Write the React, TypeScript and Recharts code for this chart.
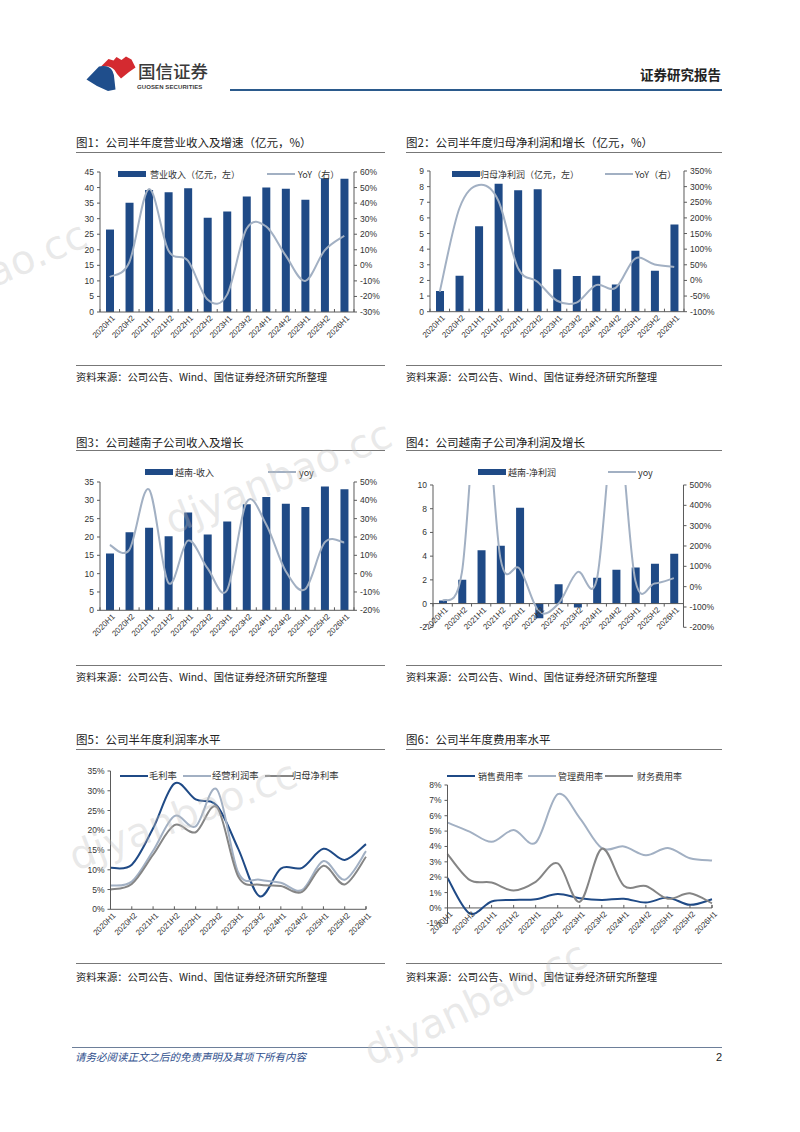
import React from 'react';
import { ComposedChart, Bar, Line, XAxis, YAxis, ReferenceLine } from 'recharts';

// ---------------- DATA ----------------
const categories = ['2020H1', '2020H2', '2021H1', '2021H2', '2022H1', '2022H2', '2023H1', '2023H2', '2024H1', '2024H2', '2025H1', '2025H2', '2026H1'];

const revenue = [26.5, 35.1, 39.2, 38.5, 39.8, 30.3, 32.3, 37.1, 40.0, 39.6, 36.1, 43.0, 42.8];
const revenueYoY = [-7.5, 2, 49, 9.6, 3, -22, -19, 23.5, 25, 6.4, -10, 9.6, 19];

const netProfit = [1.32, 2.3, 5.47, 8.19, 7.77, 7.83, 2.72, 2.28, 2.3, 1.74, 3.9, 2.62, 5.57];
const netProfitYoY = [-36, 230, 305, 255, 40, -4, -65, -71, -15, -24, 70, 51, 43];

const vnRevenue = [15.5, 21.3, 22.5, 20.2, 26.7, 20.7, 24.2, 28.9, 30.9, 29.1, 28.2, 33.8, 33.0];
const vnRevenueYoY = [15.6, 13, 46, -5, 18, 3, -9, 39, 27, 1.5, -8.5, 17, 17];

const vnProfit = [0.25, 2.0, 4.5, 4.87, 8.08, -1.24, 1.63, -0.34, 2.17, 2.85, 3.04, 3.35, 4.2];
const vnProfitYoY = [-70, 70, 1100, 139, 88, -122, -85, 72, 35, 850, 30, 16, 42];

const grossMargin = [10.5, 11.3, 20.5, 31.8, 27.8, 26.2, 15.3, 3.3, 10.3, 10.5, 15.3, 12.5, 16.5];
const opMargin = [6.0, 7.0, 14.8, 23.6, 21.0, 30.3, 9.3, 7.5, 6.7, 4.9, 12.2, 7.5, 14.7];
const netMargin = [5.0, 6.4, 13.8, 21.3, 19.5, 25.8, 8.3, 6.2, 5.9, 4.4, 11.0, 6.3, 13.3];

const sellingRate = [1.95, -0.35, 0.42, 0.52, 0.56, 0.9, 0.63, 0.52, 0.6, 0.35, 0.67, 0.2, 0.56];
const adminRate = [5.55, 4.97, 4.3, 5.07, 4.25, 7.4, 5.85, 3.9, 4.0, 3.43, 3.9, 3.23, 3.08];
const financeRate = [3.5, 1.82, 1.65, 1.13, 1.7, 2.9, 0.4, 3.85, 1.45, 1.43, 0.6, 0.95, 0.3];

const ticks45 = [0, 5, 10, 15, 20, 25, 30, 35, 40, 45];
const ticksYoY1 = [-30, -20, -10, 0, 10, 20, 30, 40, 50, 60];
const ticks9 = [0, 1, 2, 3, 4, 5, 6, 7, 8, 9];
const ticksYoY2 = [-100, -50, 0, 50, 100, 150, 200, 250, 300, 350];
const ticks35 = [0, 5, 10, 15, 20, 25, 30, 35];
const ticksYoY3 = [-20, -10, 0, 10, 20, 30, 40, 50];
const ticks10 = [-2, 0, 2, 4, 6, 8, 10];
const ticksYoY4 = [-200, -100, 0, 100, 200, 300, 400, 500];
const ticksMargin = [0, 5, 10, 15, 20, 25, 30, 35];
const ticksExpense = [-1, 0, 1, 2, 3, 4, 5, 6, 7, 8];

const titles = [
  '图1：公司半年度营业收入及增速（亿元，%）',
  '图2：公司半年度归母净利润和增长（亿元，%）',
  '图3：公司越南子公司收入及增长',
  '图4：公司越南子公司净利润及增长',
  '图5：公司半年度利润率水平',
  '图6：公司半年度费用率水平',
];
const sourceText = '资料来源：公司公告、Wind、国信证券经济研究所整理';

// ---------------- STYLE ----------------
const FONT = "'Liberation Sans', 'Noto Sans CJK SC', sans-serif";
const CJK = "'Noto Sans CJK SC', 'Liberation Sans', sans-serif";
const BLUE = '#1F4A86';
const LIGHT = '#A2B0C3';
const GRAY = '#858585';
const AXIS = '#5a5a5a';
const TXT = '#333';
const XH = 45;

function catmullRom(context: any) {
  let pts: number[][] = [];
  return {
    areaStart() {},
    areaEnd() {},
    lineStart() {
      pts = [];
    },
    point(x: number, y: number) {
      pts.push([+x, +y]);
    },
    lineEnd() {
      const n = pts.length;
      if (n === 0) return;
      context.moveTo(pts[0][0], pts[0][1]);
      for (let i = 0; i < n - 1; i++) {
        const p0 = pts[i - 1] || pts[i];
        const p1 = pts[i];
        const p2 = pts[i + 1];
        const p3 = pts[i + 2] || pts[i + 1];
        context.bezierCurveTo(
          p1[0] + (p2[0] - p0[0]) / 6,
          p1[1] + (p2[1] - p0[1]) / 6,
          p2[0] - (p3[0] - p1[0]) / 6,
          p2[1] - (p3[1] - p1[1]) / 6,
          p2[0],
          p2[1]
        );
      }
    },
  };
}

type Box = { x0: number; y0: number; w: number; h: number; pl: number; pr: number; pt: number; pb: number };

function makeBox(x0: number, w: number, pl: number, pr: number, pt: number, pb: number): Box {
  const y0 = pt - 25;
  return { x0, y0, w, h: pb - y0 + 50, pl, pr, pt, pb };
}

function renderXTick(p: any, shift: number, down: boolean, n: number) {
  const { x, y, payload, index } = p;
  const off = payload && payload.offset ? payload.offset : 0;
  const ay = y - shift;
  const tl = down ? 3 : -3;
  return (
    <g>
      <line x1={x - off} x2={x - off} y1={ay} y2={ay + tl} stroke={AXIS} />
      {index === n - 1 && <line x1={x + off} x2={x + off} y1={ay} y2={ay + tl} stroke={AXIS} />}
      <text
        x={0}
        y={0}
        transform={`translate(${x + 4},${ay + 5}) rotate(-45)`}
        textAnchor="end"
        dy="0.3em"
        fontSize={8}
        fill={TXT}
        fontFamily={FONT}
      >
        {payload.value}
      </text>
    </g>
  );
}

const yTick = { fontSize: 8.5, fill: TXT, fontFamily: FONT };

function BarLineChart(props: {
  box: Box;
  bars: number[];
  line: number[];
  leftDomain: number[];
  leftTicks: number[];
  rightDomain: number[];
  rightTicks: number[];
  zeroAxis?: boolean;
  clip?: boolean;
}) {
  const { box, bars, line, leftDomain, leftTicks, rightDomain, rightTicks, zeroAxis, clip } = props;
  const data = categories.map((c, i) => ({ cat: c, bar: bars[i], yoy: line[i] }));
  const margin = { top: box.pt - box.y0, left: 0, right: 0, bottom: box.y0 + box.h - box.pb - XH };
  const lw = box.pl - box.x0;
  const rw = box.x0 + box.w - box.pr;
  const shift = zeroAxis ? ((0 - leftDomain[0]) / (leftDomain[1] - leftDomain[0])) * (box.pb - box.pt) : 0;
  const n = categories.length;
  return (
    <div style={{ position: 'absolute', left: box.x0, top: box.y0 }}>
      <ComposedChart width={box.w} height={box.h} data={data} margin={margin}>
        <XAxis
          dataKey="cat"
          height={XH}
          tickSize={0}
          tickMargin={0}
          interval={0}
          axisLine={zeroAxis ? false : { stroke: AXIS }}
          tickLine={false}
          tick={(p: any) => renderXTick(p, shift, !!zeroAxis, n)}
        />
        <YAxis
          yAxisId="left"
          orientation="left"
          width={lw}
          domain={leftDomain}
          ticks={leftTicks}
          interval={0}
          allowDataOverflow
          tick={yTick}
          tickSize={3}
          tickMargin={3}
          tickLine={{ stroke: AXIS }}
          axisLine={{ stroke: AXIS }}
        />
        <YAxis
          yAxisId="right"
          orientation="right"
          width={rw}
          domain={rightDomain}
          ticks={rightTicks}
          interval={0}
          allowDataOverflow={!!clip}
          tick={yTick}
          tickSize={3}
          tickMargin={3}
          tickLine={{ stroke: AXIS }}
          axisLine={{ stroke: AXIS }}
          tickFormatter={(v: number) => `${v}%`}
        />
        {zeroAxis && <ReferenceLine yAxisId="left" y={0} stroke={AXIS} strokeWidth={1} />}
        <Bar yAxisId="left" dataKey="bar" fill={BLUE} barSize={8} isAnimationActive={false} />
        <Line
          yAxisId="right"
          dataKey="yoy"
          type={catmullRom as any}
          stroke={LIGHT}
          strokeWidth={2}
          dot={false}
          activeDot={false}
          isAnimationActive={false}
        />
      </ComposedChart>
    </div>
  );
}

function MultiLineChart(props: {
  box: Box;
  series: { key: string; values: number[]; color: string }[];
  domain: number[];
  ticks: number[];
  zeroAxis?: boolean;
}) {
  const { box, series, domain, ticks, zeroAxis } = props;
  const data = categories.map((c, i) => {
    const row: any = { cat: c };
    series.forEach((s) => (row[s.key] = s.values[i]));
    return row;
  });
  const margin = { top: box.pt - box.y0, left: 0, right: box.x0 + box.w - box.pr, bottom: box.y0 + box.h - box.pb - XH };
  const lw = box.pl - box.x0;
  const shift = zeroAxis ? ((0 - domain[0]) / (domain[1] - domain[0])) * (box.pb - box.pt) : 0;
  const n = categories.length;
  return (
    <div style={{ position: 'absolute', left: box.x0, top: box.y0 }}>
      <ComposedChart width={box.w} height={box.h} data={data} margin={margin}>
        <XAxis
          dataKey="cat"
          height={XH}
          tickSize={0}
          tickMargin={0}
          interval={0}
          axisLine={zeroAxis ? false : { stroke: AXIS }}
          tickLine={false}
          tick={(p: any) => renderXTick(p, shift, false, n)}
        />
        <YAxis
          yAxisId="left"
          width={lw}
          domain={domain}
          ticks={ticks}
          interval={0}
          tick={yTick}
          tickSize={3}
          tickMargin={3}
          tickLine={{ stroke: AXIS }}
          axisLine={{ stroke: AXIS }}
          tickFormatter={(v: number) => `${v}%`}
        />
        {zeroAxis && <ReferenceLine yAxisId="left" y={0} stroke={AXIS} strokeWidth={1} />}
        {series.map((s) => (
          <Line
            key={s.key}
            yAxisId="left"
            dataKey={s.key}
            type={catmullRom as any}
            stroke={s.color}
            strokeWidth={2}
            dot={false}
            activeDot={false}
            isAnimationActive={false}
          />
        ))}
      </ComposedChart>
    </div>
  );
}

function Txt(props: { x: number; y: number; size: number; children: any; style?: any }) {
  return (
    <div
      style={{
        position: 'absolute',
        left: props.x,
        top: props.y,
        transform: 'translateY(-50%)',
        fontSize: props.size,
        lineHeight: 1,
        whiteSpace: 'nowrap',
        color: '#222',
        fontFamily: CJK,
        ...(props.style || {}),
      }}
    >
      {props.children}
    </div>
  );
}

function HLine(props: { x1: number; x2: number; y: number; color?: string; t?: number }) {
  return (
    <div
      style={{
        position: 'absolute',
        left: props.x1,
        top: props.y,
        width: props.x2 - props.x1,
        height: props.t || 1,
        background: props.color || '#666',
      }}
    />
  );
}

type LegItem = { kind: 'bar' | 'line'; color: string; label: string; x: number; tx: number };

function Legend2(props: { y: number; items: LegItem[]; size?: number }) {
  return (
    <>
      {props.items.map((it, i) => (
        <React.Fragment key={i}>
          {it.kind === 'bar' ? (
            <div style={{ position: 'absolute', left: it.x, top: props.y - 3, width: 28, height: 6, background: it.color }} />
          ) : (
            <div style={{ position: 'absolute', left: it.x, top: props.y - 1, width: 28, height: 2, background: it.color }} />
          )}
          <Txt x={it.tx} y={props.y} size={props.size || 9} style={{ color: '#333' }}>
            {it.label}
          </Txt>
        </React.Fragment>
      ))}
    </>
  );
}

function Frame(props: { col: 0 | 1; title: string; ty: number; uy: number; sy: number; stY: number }) {
  const x1 = props.col === 0 ? 76 : 406;
  const x2 = props.col === 0 ? 385 : 722;
  return (
    <>
      <Txt x={x1} y={props.ty} size={11.5}>
        {props.title}
      </Txt>
      <HLine x1={x1} x2={x2} y={props.uy} color="#777" />
      <HLine x1={x1} x2={x2} y={props.sy} color="#777" />
      <Txt x={x1} y={props.stY} size={10.3}>
        {sourceText}
      </Txt>
    </>
  );
}

function Header() {
  return (
    <>
      <svg style={{ position: 'absolute', left: 0, top: 0 }} width={240} height={100}>
        <path
          d="M100.5,67 L108.5,59 L113.5,60.5 L116.5,57 L121.5,60 L126,56.5 L131.5,59.5 L135.5,67.5 L129,72 L121,78.5 Q116.5,74 114.5,70 Q110,64.5 100.5,67 Z"
          fill="#D42A30"
        />
        <path
          d="M86.5,79.5 L99,66.5 Q109,64.5 112.5,71 Q114.5,75 114.5,80.5 L115.5,89.5 L108,91 L97,86 Z"
          fill="#1F4E8C"
        />
      </svg>
      <Txt x={138} y={71} size={17.5} style={{ color: '#3a3a3a', fontWeight: 500 }}>
        国信证券
      </Txt>
      <Txt x={137} y={87} size={6} style={{ color: '#3a3a3a', fontWeight: 700, fontFamily: FONT, letterSpacing: 0.1 }}>
        GUOSEN SECURITIES
      </Txt>
      <Txt x={640} y={75} size={13.5} style={{ color: '#222', fontWeight: 700 }}>
        证券研究报告
      </Txt>
      <HLine x1={230} x2={722} y={89} color="#2B5A8C" t={2} />
    </>
  );
}

function Footer() {
  return (
    <>
      <HLine x1={72} x2={722} y={1047} color="#6d7f99" />
      <Txt x={75} y={1057} size={10.5} style={{ color: '#2E4E8C', fontStyle: 'italic' }}>
        请务必阅读正文之后的免责声明及其项下所有内容
      </Txt>
      <Txt x={716} y={1057} size={11} style={{ color: '#222', fontFamily: FONT }}>
        2
      </Txt>
    </>
  );
}

function Watermarks() {
  const marks = [
    { x: 90, y: 245, a: -24 },
    { x: 395, y: 445, a: -22 },
    { x: 300, y: 785, a: -21 },
    { x: 590, y: 965, a: -25 },
  ];
  return (
    <svg style={{ position: 'absolute', left: 0, top: 0, pointerEvents: 'none' }} width={800} height={1132}>
      {marks.map((m, i) => (
        <text
          key={i}
          x={m.x}
          y={m.y}
          transform={`rotate(${m.a},${m.x},${m.y})`}
          textAnchor="end"
          fontSize={40}
          fontFamily="'DejaVu Sans', sans-serif"
          fill="#bfbfbf"
          fillOpacity={0.35}
        >
          djyanbao.cc
        </text>
      ))}
    </svg>
  );
}

const box1 = makeBox(60, 340, 100, 354, 171.5, 311.5);
const box2 = makeBox(395, 335, 430, 684, 171, 311.7);
const box3 = makeBox(60, 340, 100, 354, 481.7, 610);
const box4 = makeBox(395, 335, 433, 683.5, 485, 627.3);
const box5 = makeBox(60, 340, 110.5, 366, 770.7, 909);
const box6 = makeBox(395, 335, 447.5, 712, 785, 923.3);

export default function App() {
  return (
    <div
      style={{
        position: 'absolute',
        left: 0,
        top: 0,
        width: 800,
        height: 1132,
        background: '#fff',
        overflow: 'hidden',
        fontFamily: CJK,
      }}
    >
      <Header />

      <Frame col={0} title={titles[0]} ty={143} uy={152} sy={365} stY={377} />
      <Frame col={1} title={titles[1]} ty={143} uy={152} sy={365} stY={377} />
      <Frame col={0} title={titles[2]} ty={442.5} uy={450} sy={665} stY={677} />
      <Frame col={1} title={titles[3]} ty={442.5} uy={450} sy={665} stY={677} />
      <Frame col={0} title={titles[4]} ty={740} uy={749} sy={963} stY={977} />
      <Frame col={1} title={titles[5]} ty={740} uy={749} sy={963} stY={977} />

      <BarLineChart box={box1} bars={revenue} line={revenueYoY} leftDomain={[0, 45]} leftTicks={ticks45} rightDomain={[-30, 60]} rightTicks={ticksYoY1} />
      <BarLineChart box={box2} bars={netProfit} line={netProfitYoY} leftDomain={[0, 9]} leftTicks={ticks9} rightDomain={[-100, 350]} rightTicks={ticksYoY2} />
      <BarLineChart box={box3} bars={vnRevenue} line={vnRevenueYoY} leftDomain={[0, 35]} leftTicks={ticks35} rightDomain={[-20, 50]} rightTicks={ticksYoY3} />
      <BarLineChart box={box4} bars={vnProfit} line={vnProfitYoY} leftDomain={[-2, 10]} leftTicks={ticks10} rightDomain={[-200, 500]} rightTicks={ticksYoY4} zeroAxis clip />
      <MultiLineChart
        box={box5}
        domain={[0, 35]}
        ticks={ticksMargin}
        series={[
          { key: 'gross', values: grossMargin, color: BLUE },
          { key: 'op', values: opMargin, color: LIGHT },
          { key: 'net', values: netMargin, color: GRAY },
        ]}
      />
      <MultiLineChart
        box={box6}
        domain={[-1, 8]}
        ticks={ticksExpense}
        zeroAxis
        series={[
          { key: 'sell', values: sellingRate, color: BLUE },
          { key: 'admin', values: adminRate, color: LIGHT },
          { key: 'fin', values: financeRate, color: GRAY },
        ]}
      />

      <Legend2
        y={173.5}
        items={[
          { kind: 'bar', color: BLUE, label: '营业收入（亿元，左）', x: 118, tx: 150 },
          { kind: 'line', color: LIGHT, label: 'YoY（右）', x: 267, tx: 298 },
        ]}
      />
      <Legend2
        y={173.5}
        items={[
          { kind: 'bar', color: BLUE, label: '归母净利润（亿元，左）', x: 452, tx: 480 },
          { kind: 'line', color: LIGHT, label: 'YoY（右）', x: 605, tx: 635 },
        ]}
      />
      <Legend2
        y={472}
        items={[
          { kind: 'bar', color: BLUE, label: '越南-收入', x: 145, tx: 175 },
          { kind: 'line', color: LIGHT, label: 'yoy', x: 268, tx: 299 },
        ]}
      />
      <Legend2
        y={472}
        items={[
          { kind: 'bar', color: BLUE, label: '越南-净利润', x: 478, tx: 508 },
          { kind: 'line', color: LIGHT, label: 'yoy', x: 608, tx: 638 },
        ]}
      />
      <Legend2
        y={775.7}
        size={9.3}
        items={[
          { kind: 'line', color: BLUE, label: '毛利率', x: 120, tx: 149 },
          { kind: 'line', color: LIGHT, label: '经营利润率', x: 183, tx: 212 },
          { kind: 'line', color: GRAY, label: '归母净利率', x: 265, tx: 292 },
        ]}
      />
      <Legend2
        y={775.7}
        items={[
          { kind: 'line', color: BLUE, label: '销售费用率', x: 447, tx: 478 },
          { kind: 'line', color: LIGHT, label: '管理费用率', x: 528, tx: 558 },
          { kind: 'line', color: GRAY, label: '财务费用率', x: 605, tx: 637 },
        ]}
      />

      <Footer />
      <Watermarks />
    </div>
  );
}
